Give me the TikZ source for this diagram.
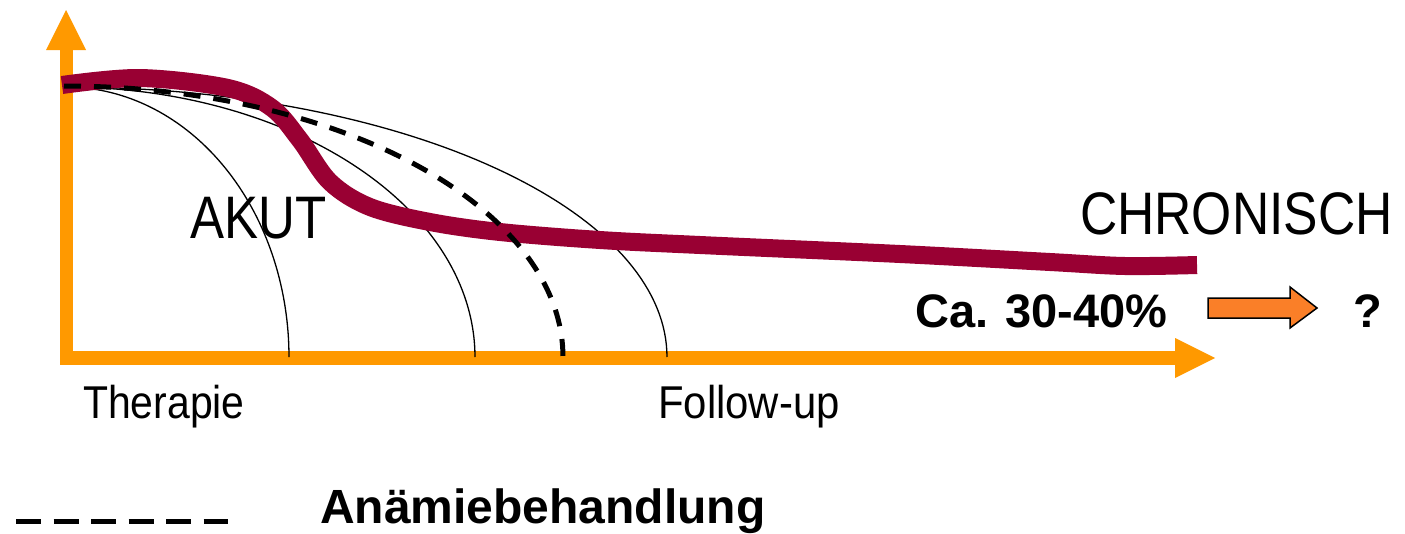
\documentclass[tikz,border=0pt]{standalone}
\usepackage{fontspec}
\setmainfont{Liberation Sans}
\usepackage{graphicx}
\definecolor{axisorange}{HTML}{FF9900}
\definecolor{wine}{HTML}{990033}
\definecolor{blockorange}{HTML}{FA7F28}
\tikzset{
  axisfill/.style={fill=axisorange},
  thinarc/.style={draw=black, line width=1.3},
  course/.style={draw=wine, line width=18, line cap=butt},
  anemia/.style={draw=black, line width=5, dash pattern=on 17 off 13},
  label/.style={inner sep=0, anchor=base west, text=black},
}
\newcommand{\narrow}[2]{\scalebox{#1}[1]{#2}}
\begin{document}
\begin{tikzpicture}[x=1pt, y=-1pt]
\useasboundingbox (0,0) rectangle (1405,533);

% axes
\fill[axisfill] (59.5,50) rectangle (72.5,365);
\fill[axisfill] (46,50) -- (66,10) -- (86,50) -- cycle;
\fill[axisfill] (59.5,351) rectangle (1176,365);
\fill[axisfill] (1175,338) -- (1215,358) -- (1175,378) -- cycle;

% quarter-ellipse phases, all anchored at the origin
\foreach \rx in {223,409,601}
  \draw[thinarc] plot[domain=0:90, samples=70, variable=\t]
    ({66+\rx*sin(\t)}, {357-270*cos(\t)});

% course of the condition
\draw[course] plot[smooth, tension=0.55] coordinates {
  (62,85) (140,78) (228,88) (272,108) (300,140) (330,182) (370,207)
  (430,222) (500,232) (600,240) (700,245) (900,254) (1050,262)
  (1125,266) (1197,265)};

% course with anaemia treatment
\draw[anemia] plot[domain=0:90, samples=80, variable=\t]
  ({64+499*sin(\t)}, {357-271*cos(\t)});

% labels
\node[label, font=\fontsize{60}{70}\selectfont] (akut) at (190,238) {\narrow{0.85}{AKUT}};
\node[label, font=\fontsize{60}{70}\selectfont] (chron) at (1080,234) {\narrow{0.86}{CHRONISCH}};
\node[label, font=\fontsize{46}{54}\selectfont] (ther) at (83,418) {\narrow{0.89}{Therapie}};
\node[label, font=\fontsize{46}{54}\selectfont] (follow) at (658,418) {\narrow{0.91}{Follow-up}};
\node[label, font=\bfseries\fontsize{47}{54}\selectfont] (share) at (915,327) {Ca. 30-40\%};
\node[label, font=\bfseries\fontsize{47}{54}\selectfont] (quest) at (1353,327) {?};
\node[label, font=\bfseries\fontsize{48}{56}\selectfont] (legtext) at (320,523) {Anämiebehandlung};

% outlook arrow
\draw[fill=blockorange, line width=1.5, line join=miter]
  (1208,298) -- (1290,298) -- (1290,287) -- (1317,308) -- (1290,328)
  -- (1290,318) -- (1208,318) -- cycle;

% legend sample
\coordinate (legA) at (16,521);
\coordinate (legB) at (228,521);
\draw[black, line width=5, dash pattern=on 25 off 12.5] (legA) -- (legB);
\end{tikzpicture}
\end{document}
